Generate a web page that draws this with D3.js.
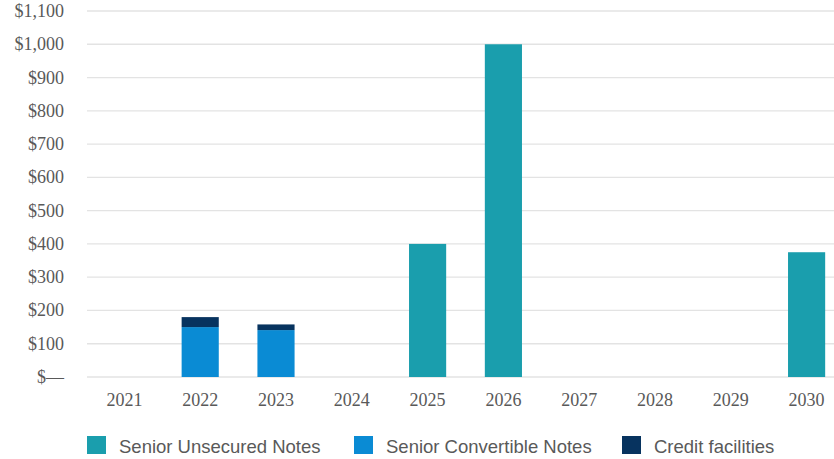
<!DOCTYPE html>
<html>
<head>
<meta charset="utf-8">
<script src="https://cdn.jsdelivr.net/npm/d3@7"></script>
<style>
  body { margin: 0; background: #fff; }
</style>
</head>
<body>
<div id="chart"></div>
<script>
const years = ["2021", "2022", "2023", "2024", "2025", "2026", "2027", "2028", "2029", "2030"];
const unsecuredNotes = [0, 0, 0, 0, 400, 1000, 0, 0, 0, 375];
const convertibleNotes = [0, 150, 141, 0, 0, 0, 0, 0, 0, 0];
const creditFacilities = [0, 30, 17, 0, 0, 0, 0, 0, 0, 0];
const yTicks = [0, 100, 200, 300, 400, 500, 600, 700, 800, 900, 1000, 1100];
const seriesNames = ["Senior Unsecured Notes", "Senior Convertible Notes", "Credit facilities"];
const colors = ["#1a9ead", "#0a8bd4", "#07335f"];

const width = 834, height = 459;
const svg = d3.select("#chart")
  .append("svg")
  .attr("width", width)
  .attr("height", height);

const x = d3.scaleBand()
  .domain(years)
  .range([86.5, 844.5])
  .paddingInner(0.51)
  .paddingOuter(0.255);

const y = d3.scaleLinear()
  .domain([0, 1100])
  .range([377, 11]);

// gridlines
svg.append("g")
  .selectAll("line")
  .data(yTicks)
  .enter().append("line")
  .attr("x1", 87)
  .attr("x2", width)
  .attr("y1", d => y(d))
  .attr("y2", d => y(d))
  .attr("stroke", "#e3e3e3")
  .attr("stroke-width", 1.3);

// y axis labels
svg.append("g")
  .selectAll("text")
  .data(yTicks)
  .enter().append("text")
  .attr("x", 64)
  .attr("y", d => y(d) + 6)
  .attr("text-anchor", "end")
  .attr("font-family", "Liberation Serif, serif")
  .attr("font-size", "18px")
  .attr("fill", "#595959")
  .text(d => d === 0 ? "$\u2014" : "$" + d3.format(",")(d));

// x axis labels
svg.append("g")
  .selectAll("text")
  .data(years)
  .enter().append("text")
  .attr("x", d => x(d) + x.bandwidth() / 2)
  .attr("y", 406)
  .attr("text-anchor", "middle")
  .attr("font-family", "Liberation Serif, serif")
  .attr("font-size", "18px")
  .attr("fill", "#595959")
  .text(d => d);

// stacked bars
const rows = years.map((yr, i) => ({
  year: yr,
  s0: unsecuredNotes[i],
  s1: convertibleNotes[i],
  s2: creditFacilities[i]
}));
const stack = d3.stack().keys(["s0", "s1", "s2"]);
const layers = stack(rows);

svg.append("g")
  .selectAll("g")
  .data(layers)
  .enter().append("g")
  .attr("fill", (d, i) => colors[i])
  .selectAll("rect")
  .data(d => d.filter(p => p[1] - p[0] > 0))
  .enter().append("rect")
  .attr("x", d => x(d.data.year))
  .attr("width", x.bandwidth())
  .attr("y", d => y(d[1]))
  .attr("height", d => y(d[0]) - y(d[1]));

// legend
const legendX = [87, 354, 622];
const legend = svg.append("g");
seriesNames.forEach((name, i) => {
  legend.append("rect")
    .attr("x", legendX[i])
    .attr("y", 436)
    .attr("width", 19)
    .attr("height", 18)
    .attr("fill", colors[i]);
  legend.append("text")
    .attr("x", legendX[i] + 32)
    .attr("y", 453)
    .attr("font-family", "Liberation Sans, Arial, sans-serif")
    .attr("font-size", "18.5px")
    .attr("fill", "#595959")
    .text(name);
});
</script>
</body>
</html>
